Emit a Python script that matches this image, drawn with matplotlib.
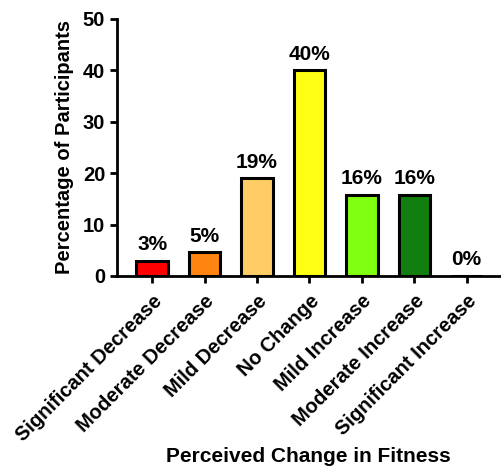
import matplotlib.pyplot as plt

plt.rcParams['font.family'] = ['Liberation Sans', 'DejaVu Sans']
plt.rcParams['font.weight'] = 'bold'

categories = ["Significant Decrease", "Moderate Decrease", "Mild Decrease",
              "No Change", "Mild Increase", "Moderate Increase",
              "Significant Increase"]
percentages = [3, 4.6, 19, 40, 15.8, 15.8, 0]
bar_labels = ["3%", "5%", "19%", "40%", "16%", "16%", "0%"]
colors = ["#FF0000", "#FF8410", "#FFCC66", "#FFFF14", "#80FF10", "#107F10", "#FFFFFF"]

fig = plt.figure(figsize=(5.01, 4.70), dpi=100)
ax = fig.add_axes([0.2335, 0.4128, 0.766, 0.547])

x_pos = list(range(len(categories)))
bars = ax.bar(x_pos, percentages, width=0.6, color=colors,
              edgecolor='black', linewidth=2.2)
for i, b in enumerate(bars):
    ax.text(b.get_x() + b.get_width() / 2, percentages[i] + 1.3, bar_labels[i],
            ha='center', va='bottom', fontsize=15, fontweight='bold')

ax.set_xlim(-0.67, 6.65)
ax.set_ylim(0, 50)
ax.set_yticks([0, 10, 20, 30, 40, 50])
ax.set_xticks(x_pos)
ax.set_xticklabels(categories, rotation=45, ha='right', rotation_mode='anchor')

for side in ['top', 'right']:
    ax.spines[side].set_visible(False)
for side in ['left', 'bottom']:
    ax.spines[side].set_linewidth(2)
ax.tick_params(width=2, length=5, labelsize=14.5)
ax.tick_params(axis='x', pad=6)

ax.set_ylabel("Percentage of Participants", fontsize=14.5, fontweight='bold', labelpad=6)
ax.set_xlabel("Perceived Change in Fitness", fontsize=15, fontweight='bold', labelpad=2)

fig.savefig("out.png", dpi=100)
